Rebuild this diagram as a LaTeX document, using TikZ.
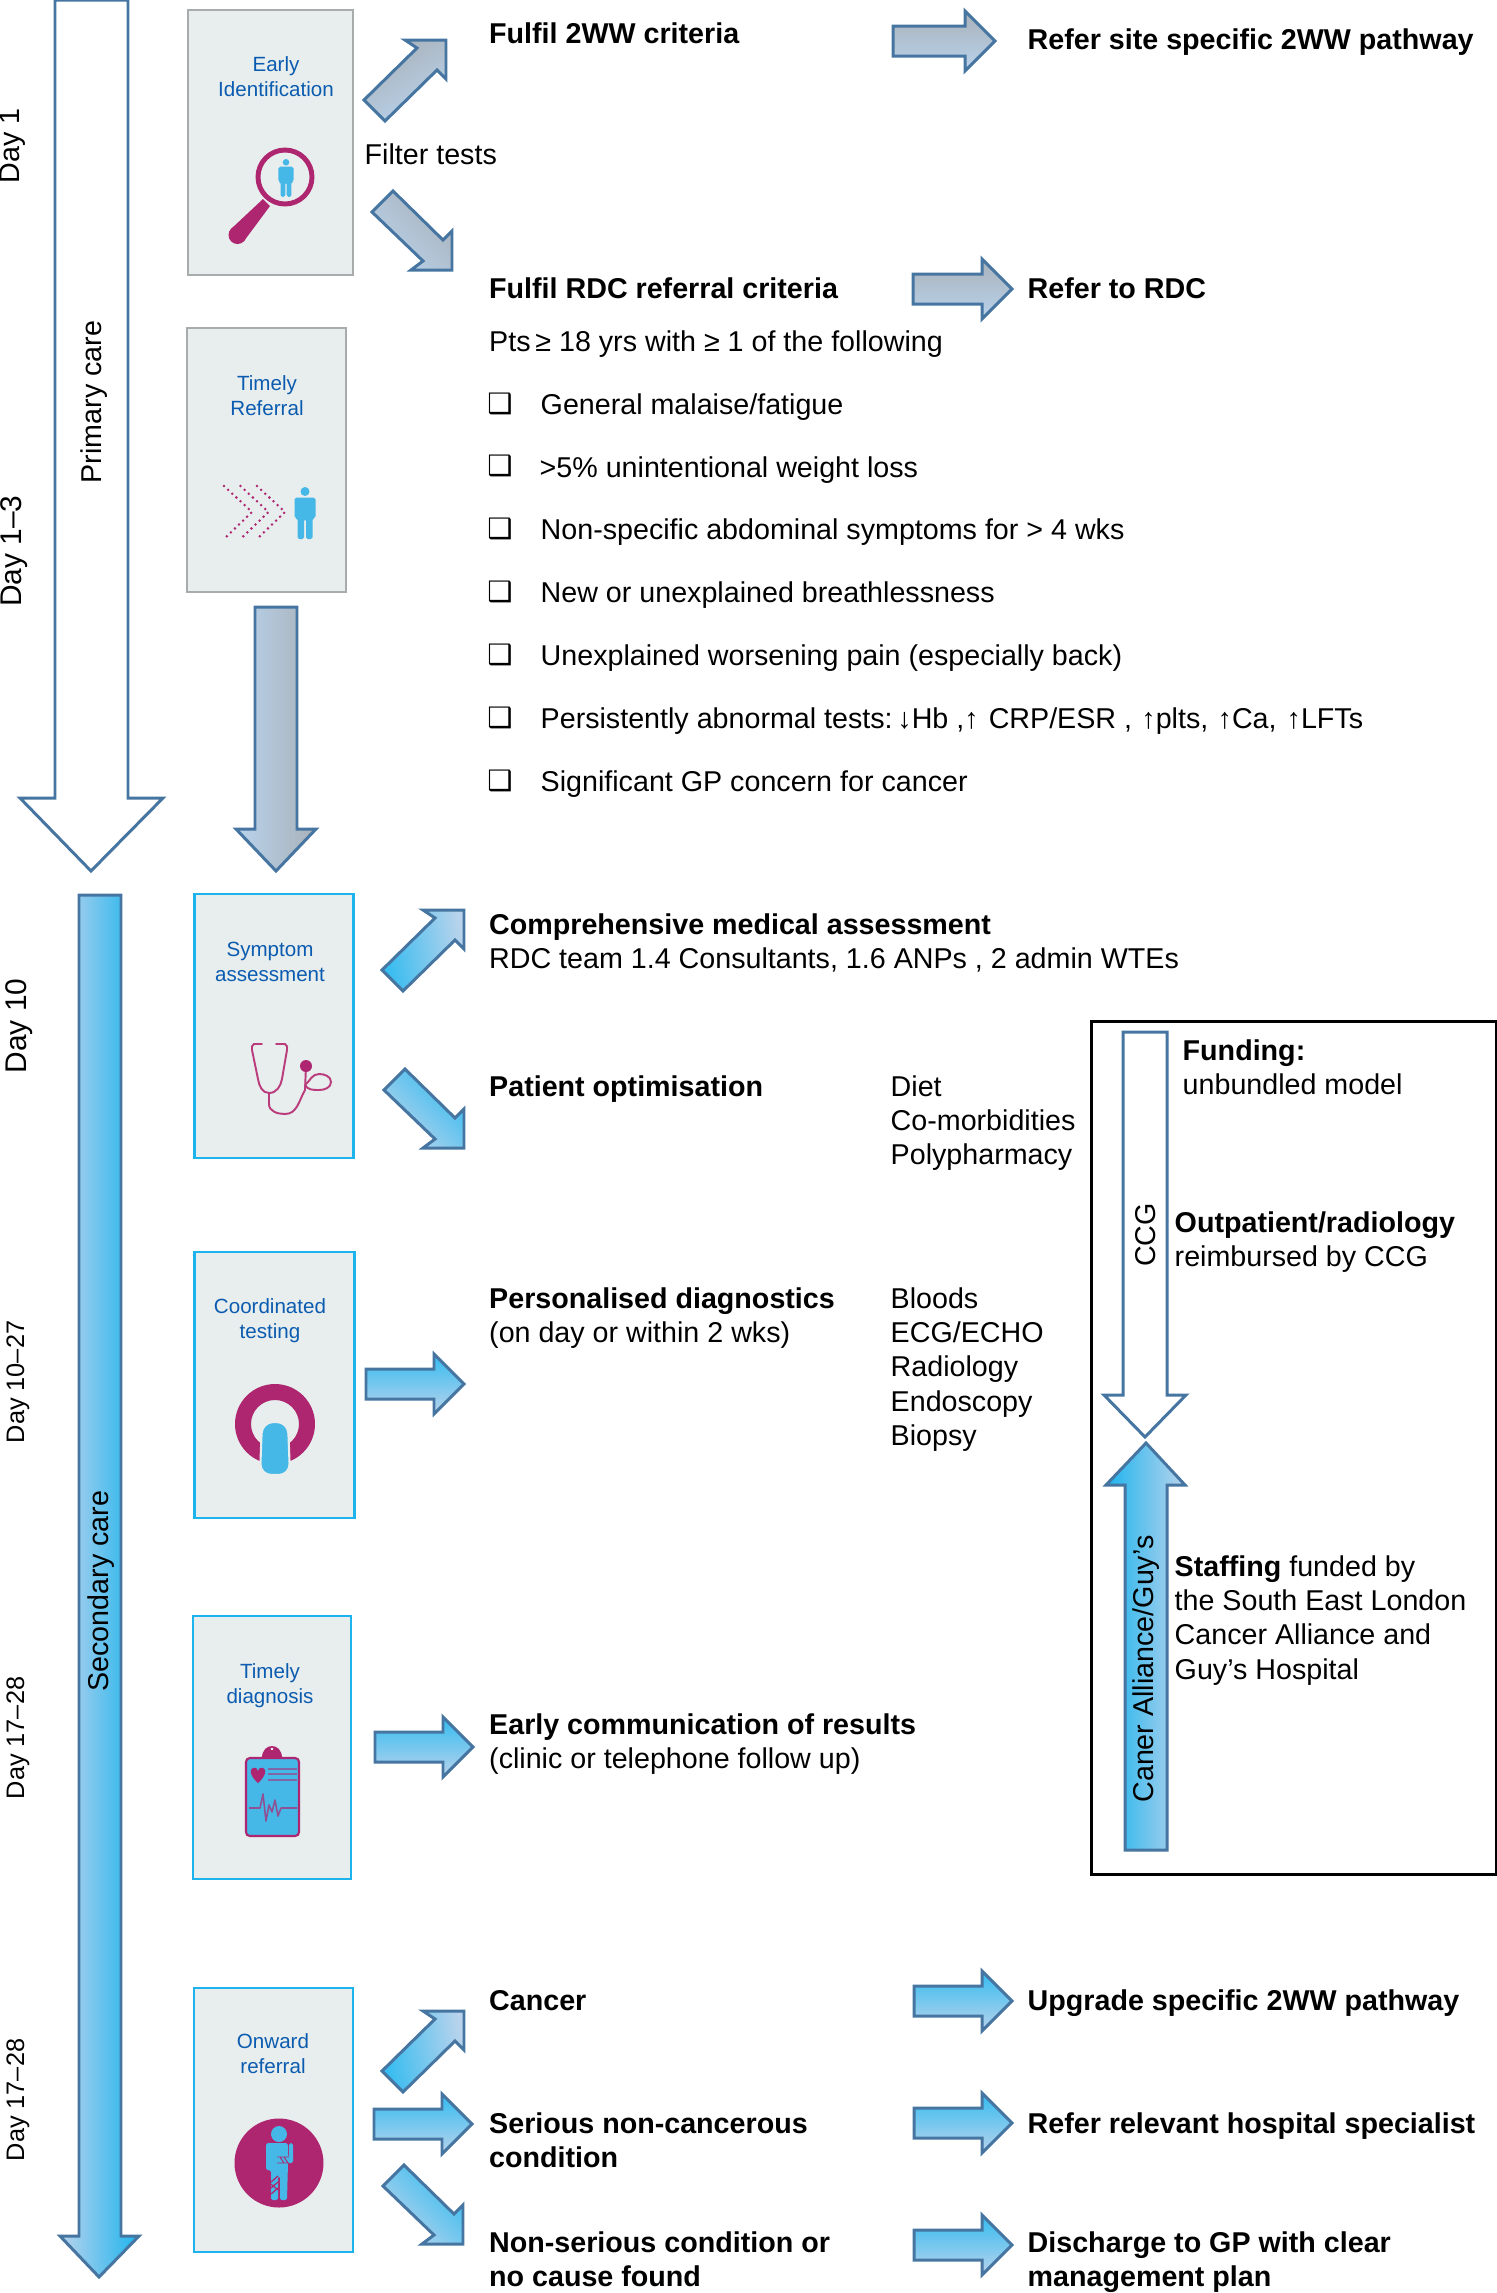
\documentclass[tikz,border=0pt]{standalone}
\usepackage{fontspec}
\setmainfont{Liberation Sans}
\newfontfamily\boxglyph{DejaVu Sans}
\usepackage{xcolor}
\definecolor{lineblue}{HTML}{4575A0}
\definecolor{palegrey}{HTML}{A9B1B9}
\definecolor{paleblue}{HTML}{B9D3EC}
\definecolor{skyblue}{HTML}{1DB4EE}
\definecolor{iconblue}{HTML}{45B8E8}
\definecolor{magenta}{HTML}{AE2570}
\definecolor{boxfill}{HTML}{E8EDED}
\definecolor{boxgrey}{HTML}{A9ACAD}
\definecolor{labelblue}{HTML}{0B5CB0}
\tikzset{
  pics/upblock/.style={code={\draw[pic actions] (-84,62)--(-31,10)--(-43,2)--(-2,2)--(-2,41)--(-11,32)--(-63,83)--cycle;}},
  pics/downblock/.style={code={\draw[pic actions] (-82,-60)--(-31,-11)--(-43,-2)--(-2,-2)--(-2,-41)--(-11,-32)--(-61,-81)--cycle;}},
  pics/rightblock/.style={code={\draw[pic actions] (-#1,-15)--(-32,-15)--(-32,-30)--(-2,0)--(-32,30)--(-32,15)--(-#1,15)--cycle;}},
  pics/person/.style={code={
    \fill[iconblue] (0,4.5) circle (4.5);
    \fill[iconblue,rounded corners=0.5pt] (-10.5,10.5)--(10.5,10.5)--(10.5,31)--(7.5,31)--(7.5,52)--(1,52)--(1,32)--(-1,32)--(-1,52)--(-7.5,52)--(-7.5,31)--(-10.5,31)--cycle;
  }},
}
\begin{document}
\begin{tikzpicture}[x=0.01cm,y=-0.01cm]
\tikzstyle{tx}=[anchor=north west,inner sep=0pt,align=left,execute at begin node=\strut,font=\fontsize{8.15}{9.73}\selectfont]
\tikzstyle{bx}=[tx,font=\fontsize{8.15}{9.73}\selectfont\bfseries]
\tikzstyle{chk}=[inner sep=0pt,font=\boxglyph\fontsize{8}{9}\selectfont]
\tikzstyle{dayl}=[rotate=90,inner sep=0pt,font=\fontsize{8.15}{9.73}\selectfont]
\tikzstyle{dayM}=[rotate=90,inner sep=0pt,font=\fontsize{8.5}{9.73}\selectfont]
\tikzstyle{dayS}=[rotate=90,inner sep=0pt,font=\fontsize{7.2}{8}\selectfont]
\tikzstyle{stage}=[rectangle,draw=boxgrey,fill=boxfill,line width=0.7pt,inner sep=0pt]
\tikzstyle{stageB}=[rectangle,draw=skyblue,fill=boxfill,line width=0.7pt,inner sep=0pt]
\tikzstyle{lab}=[text=labelblue,align=center,inner sep=0pt,font=\fontsize{5.85}{7.1}\selectfont]
\tikzstyle{blk}=[draw=lineblue,line width=0.85pt,miter limit=20]
\tikzstyle{greyh}=[blk,top color=palegrey,bottom color=paleblue]
\tikzstyle{blueh}=[blk,top color=skyblue!90!white,bottom color=paleblue]
\useasboundingbox (0,0) rectangle (1497,2293);
%
\node[stage,minimum width=165*0.01cm,minimum height=265*0.01cm](earlybox) at (270.5,142.5){};
\node[stage,minimum width=159*0.01cm,minimum height=264*0.01cm](referbox) at (266.5,460){};
\node[stageB,minimum width=159*0.01cm,minimum height=264*0.01cm](sympbox) at (274,1026){};
\node[stageB,minimum width=160*0.01cm,minimum height=266*0.01cm](testbox) at (274.5,1385){};
\node[stageB,minimum width=158*0.01cm,minimum height=263*0.01cm](diagbox) at (272,1747.5){};
\node[stageB,minimum width=159*0.01cm,minimum height=264*0.01cm](onwardbox) at (273.5,2120){};
%
\node[lab](earlylab) at (276,77){Early\\Identification};
\node[lab](referlab) at (267,396){Timely\\Referral};
\node[lab](symplab) at (270,962){Symptom\\assessment};
\node[lab](testlab) at (270,1321){Coordinated\\testing};
\node[lab](diaglab) at (270,1686){Timely\\diagnosis};
\node[lab](onwardlab) at (273,2054){Onward\\referral};
%
\draw[blk,fill=white] (55,0)--(128,0)--(128,798)--(163,798)--(91,871)--(20,798)--(55,798)--cycle;
\draw[blk,left color=paleblue,right color=palegrey] (255,607)--(297,607)--(297,829)--(316,829)--(276,871)--(236,829)--(255,829)--cycle;
\draw[blk,left color=paleblue,right color=skyblue] (79,895)--(121,895)--(121,2236)--(139,2236)--(99,2277)--(60,2236)--(79,2236)--cycle;
\draw[blk,fill=white] (1123,1032)--(1167,1032)--(1167,1395)--(1186,1395)--(1145,1437)--(1104,1395)--(1123,1395)--cycle;
\draw[blk,left color=skyblue,right color=paleblue] (1125,1850)--(1167,1850)--(1167,1485)--(1185,1485)--(1146,1443)--(1106,1485)--(1125,1485)--cycle;
%
\pic[blk,top color=palegrey,bottom color=paleblue,shading angle=30] at (448,38){upblock};
\pic[blk,top color=palegrey,bottom color=paleblue,shading angle=-45] at (454,272){downblock};
\pic[greyh] at (997,41){rightblock=104};
\pic[greyh] at (1014,289){rightblock=101};
%
\pic[blk,top color=skyblue!90!white,bottom color=paleblue,shading angle=100] at (466,908){upblock};
\pic[blk,top color=skyblue!90!white,bottom color=paleblue,shading angle=-45] at (466,1150){downblock};
\pic[blueh] at (466,1384){rightblock=100};
\pic[blueh] at (475,1747){rightblock=100};
\pic[blk,top color=skyblue!90!white,bottom color=paleblue,shading angle=100] at (466,2009){upblock};
\pic[blueh] at (474,2124){rightblock=100};
\pic[blk,top color=skyblue!90!white,bottom color=paleblue,shading angle=-45] at (465,2246){downblock};
\pic[blueh] at (1014,2001){rightblock=100};
\pic[blueh] at (1014,2123){rightblock=100};
\pic[blueh] at (1014,2245){rightblock=100};
%
\draw[black,line width=0.85pt] (1091,1021) rectangle (1496,1874);
%
\node[dayl](day1) at (13,146){Day 1};
\node[dayM](day13) at (14,551){Day 1--3};
\node[dayM](day10) at (19,1026){Day 10};
\node[dayS](day1027) at (18,1382){Day 10--27};
\node[dayS](day1728a) at (18,1738){Day 17--28};
\node[dayS](day1728b) at (18,2100){Day 17--28};
\node[dayl](primary) at (94,402){Primary care};
\node[dayl](secondary) at (101,1591){Secondary care};
\node[dayl](ccg) at (1146,1235){CCG};
\node[dayl](caner) at (1146,1669){Caner Alliance/Guy's};
%
\node[bx](crit2ww) at (488.5,19){Fulfil 2WW criteria};
\node[bx](site2ww) at (1027,25){Refer site specific 2WW pathway};
\node[tx](filter) at (364,139.5){Filter tests};
\node[bx](critrdc) at (488.5,274){Fulfil RDC referral criteria};
\node[bx](refrdc) at (1027,274){Refer to RDC};
\node[tx](pts) at (488.5,327){Pts\,≥ 18 yrs with ≥ 1 of the following};
%
\node[chk](c1) at (500,404){❑};
\node[chk](c2) at (500,466){❑};
\node[chk](c3) at (500,529){❑};
\node[chk](c4) at (500,592){❑};
\node[chk](c5) at (500,655){❑};
\node[chk](c6) at (500,718){❑};
\node[chk](c7) at (500,781){❑};
\node[tx](l1) at (540,389.5){General malaise/fatigue};
\node[tx](l2) at (539,453){>5\% unintentional weight loss};
\node[tx](l3) at (540,515){Non-specific abdominal symptoms for > 4 wks};
\node[tx](l4) at (540,578){New or unexplained breathlessness};
\node[tx](l5) at (540,641){Unexplained worsening pain (especially back)};
\node[tx](l6) at (540,704){Persistently abnormal tests:\,↓Hb ,↑\hspace{.6pt} CRP/ESR , \hspace{.4pt}↑plts, \hspace{.4pt}↑Ca, \hspace{.6pt}↑LFTs};
\node[tx](l7) at (540,767){Significant GP concern for cancer};
%
\node[tx](assess) at (488.5,913){\textbf{Comprehensive medical assessment}\\RDC team 1.4 Consultants, 1.6 ANPs , 2 admin WTEs};
\node[bx](optim) at (488.5,1072){Patient optimisation};
\node[tx](optlist) at (890,1075){Diet\\Co-morbidities\\Polypharmacy};
\node[tx](pers) at (488.5,1287){\textbf{Personalised diagnostics}\\(on day or within 2 wks)};
\node[tx](perslist) at (890,1287){Bloods\\ECG/ECHO\\Radiology\\Endoscopy\\Biopsy};
\node[tx](early) at (488.5,1713){\textbf{Early communication of results}\\(clinic or telephone follow up)};
\node[bx](cancer) at (488.5,1986){Cancer};
\node[bx](upgrade) at (1027,1986){Upgrade specific 2WW pathway};
\node[bx](serious) at (488.5,2112){Serious non-cancerous\\condition};
\node[bx](relevant) at (1027,2109){Refer relevant hospital specialist};
\node[bx](noncanc) at (488.5,2231){Non-serious condition or\\no cause found};
\node[bx](discharge) at (1027,2231){Discharge to GP with clear\\management plan};
%
\node[tx](funding) at (1182,1039){\textbf{Funding:}\\unbundled model};
\node[tx](outp) at (1174,1211){\textbf{Outpatient/radiology}\\reimbursed by CCG};
\node[tx](staff) at (1174,1555){\textbf{Staffing} funded by\\the South East London\\Cancer Alliance and\\Guy’s Hospital};
%
% magnifier
\draw[magenta,line width=1.4pt] (285,177) circle (27);
\fill[magenta] (263,199)--(270,206)--(244,241)--(231,229)--cycle;
\fill[magenta] (237.5,235) circle (9);
\pic[scale=0.73] at (286,159){person};
%
% chevrons and person
\foreach \dx in {0,16.5,33}{
  \draw[magenta,line width=0.8pt,line cap=round,dash pattern=on 0pt off 1.6pt,xshift=\dx*0.01cm] (224,486)--(252,512)--(224,539);
}
\pic at (305,487){person};
%
% stethoscope
\draw[magenta!85!pink,line width=0.55pt,line cap=round] (262,1044)--(254,1044)to[out=200,in=100](252,1050)--(258,1079)to[out=280,in=180](269,1093)to[out=0,in=260](282,1079)--(287,1050)to[out=80,in=-20](285,1044)--(276,1044);
\draw[magenta!85!pink,line width=0.55pt] (269,1093)--(269,1104)to[out=270,in=180](285,1114)to[out=0,in=240](305,1090)--(306,1066);
\draw[magenta!85!pink,line width=0.55pt] (305,1085)to[out=40,in=180](319,1074)to[out=0,in=90](331,1082)to[out=270,in=0](319,1090)to[out=180,in=-60](305,1085);
\fill[magenta] (306,1066) circle (6);
%
% scanner
\fill[magenta,even odd rule] (275,1424) circle (40) (275,1424) circle (24);
\draw[boxfill,line width=0.6pt,fill=iconblue,rounded corners=3.2pt] (260,1475)--(262,1422)--(288,1422)--(290,1475)--cycle;
%
% clipboard
\fill[magenta] (262,1758) .. controls (262,1742) and (282,1742) .. (282,1758)--cycle;
\fill[white] (272,1749) circle (1.3);
\draw[magenta,fill=iconblue,line width=0.6pt,rounded corners=1.1pt] (246,1758) rectangle (299,1836);
\fill[magenta] (258,1783) .. controls (250,1776) and (249,1769) .. (253,1768) .. controls (256,1767) and (258,1769) .. (258,1771) .. controls (258,1769) and (260,1767) .. (263,1768) .. controls (267,1769) and (266,1776) .. (258,1783);
\foreach \yy in {1769,1774,1780}{
  \draw[magenta!55!iconblue,line width=0.3pt] (268,\yy)--(297,\yy);
}
\draw[magenta!70!iconblue,line width=0.45pt,line join=round] (249,1808)--(260,1808)--(263,1794)--(266,1821)--(269,1805)--(272,1812)--(275,1800)--(278,1816)--(281,1808)--(297,1808);
%
% patient with cast
\fill[magenta] (279,2163) circle (44.5);
\fill[iconblue] (279,2134) circle (8);
\fill[iconblue,rounded corners=0.5pt] (266,2143)--(288,2143)--(288,2163)--(287,2200)--(280,2200)--(280,2176)--(278,2176)--(278,2200)--(271,2200)--(271,2170)--(266,2170)--cycle;
\fill[iconblue,rounded corners=0.5pt] (289,2143)--(293,2143)--(293,2163)--(277,2163)--(277,2157)--(289,2157)--cycle;
\draw[magenta,line width=0.25pt] (277,2157)--(289,2157) (277,2163)--(289,2163) (280,2157)--(284,2163) (284,2157)--(288,2163);
\draw[magenta,line width=0.35pt] (271,2182)--(278,2176) (271,2188)--(278,2182) (271,2194)--(278,2188) (271,2184)--(278,2190);
\end{tikzpicture}
\end{document}
